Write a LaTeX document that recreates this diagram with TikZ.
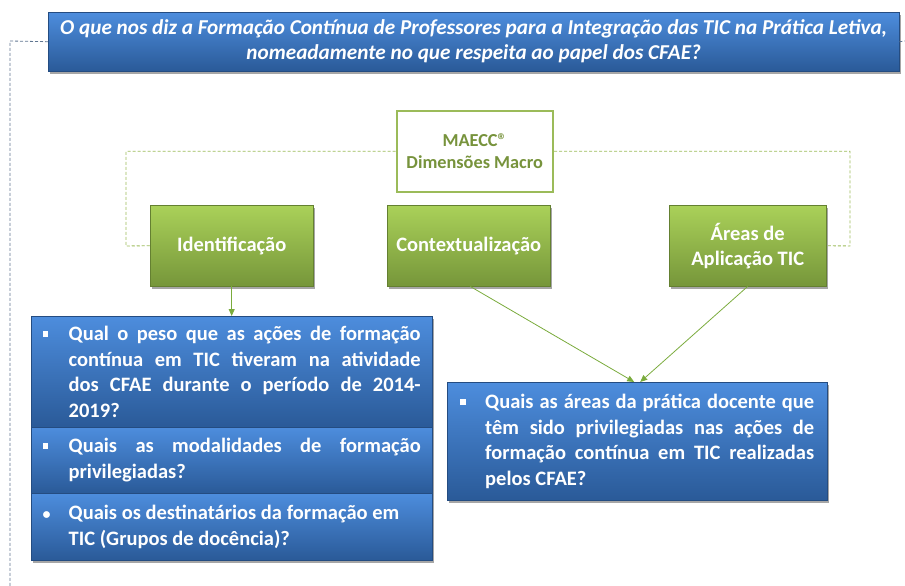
\documentclass[tikz,border=0pt]{standalone}
\usepackage{fontspec}
\setmainfont{Carlito}
\usetikzlibrary{shadows,arrows.meta,calc}
\definecolor{bluetop}{HTML}{4D8DDD}
\definecolor{bluebot}{HTML}{2A5A98}
\definecolor{greentop}{HTML}{AAD159}
\definecolor{greenbot}{HTML}{76963A}
\definecolor{greenline}{HTML}{9BBB59}
\definecolor{greentext}{HTML}{77933C}
\definecolor{arrowgreen}{HTML}{7AAB3C}
\definecolor{dashblue}{HTML}{5F7590}
\newcommand{\sqb}{\raisebox{4pt}{\rule{5.5pt}{5.5pt}}}
\newcommand{\rdb}{{\fontsize{16}{16}\selectfont\textbullet}}
\begin{document}
\begin{tikzpicture}[x=1pt,y=-1pt,
  shad/.style={drop shadow={shadow xshift=2pt,shadow yshift=-3pt,opacity=0.35,fill=black}},
  bluebox/.style={draw=bluebot!85!black, line width=0.4pt, top color=bluetop, bottom color=bluebot, shad,
    text=white, font=\fontsize{20.5}{25.5}\selectfont\bfseries, anchor=north west, inner ysep=0pt, inner xsep=0pt},
  greenbox/.style={draw=greenbot!85!black, line width=0.4pt, top color=greentop, bottom color=greenbot, shad,
    text=white, font=\fontsize{20.5}{25}\selectfont\bfseries, anchor=north west, align=center,
    minimum height=81pt, inner sep=0pt},
  greendash/.style={draw=greenline, line width=0.9pt, dash pattern=on 3pt off 2pt},
  bluedash/.style={draw=dashblue, line width=0.8pt, dash pattern=on 3pt off 2pt},
  arr/.style={draw=arrowgreen, line width=0.8pt, -{Triangle[length=7pt,width=6pt]}}
]
\useasboundingbox (0,0) rectangle (905,586);

% title
\node[bluebox, minimum width=851pt, minimum height=59pt, align=center,
  font=\fontsize{21.2}{25}\selectfont\bfseries\itshape] (title) at (48,12)
  {O que nos diz a Formação Contínua de Professores para a Integração das TIC na Prática Letiva,\\
   nomeadamente no que respeita ao papel dos CFAE?};
\coordinate (tl) at (10,41);
\coordinate (tb) at (10,586);
\coordinate (tr) at (905,41);
\draw[bluedash] (title.west) -- (tl) -- (tb);
\draw[bluedash] (title.east) -- (tr);

% MAECC box
\node[draw=greenline, line width=2.5pt, fill=white, text=greentext, anchor=north west,
  minimum width=156pt, minimum height=81pt, align=center, inner sep=0pt,
  font=\fontsize{18.3}{22}\selectfont\bfseries] (maecc) at (395.5,109.5)
  {MAECC®\\Dimensões Macro};

% green boxes
\node[greenbox, minimum width=163pt] (ident) at (150,205) {Identificação};
\node[greenbox, minimum width=163pt] (ctx) at (387,205) {Contextualização};
\node[greenbox, minimum width=157pt] (areas) at (669,205) {Áreas de\\Aplicação TIC};

\coordinate (dl) at (126,246);
\coordinate (dr) at (850,246);
\draw[greendash] (maecc.west) -| (dl) -- (ident.west);
\draw[greendash] (maecc.east) -| (dr) -- (areas.east);

% left blue boxes
\node[bluebox, minimum width=401pt, minimum height=111pt] (b1) at (31,316)
  {\makebox[26pt][l]{\sqb}\parbox[t]{352pt}{Qual o peso que as ações de formação\linebreak
   contínua em TIC tiveram na atividade\linebreak dos CFAE durante o período de 2014-\linebreak 2019?}};
\node[bluebox, minimum width=401pt, minimum height=66pt] (b2) at (31,427)
  {\makebox[26pt][l]{\sqb}\parbox[t]{352pt}{Quais as modalidades de formação\linebreak privilegiadas?}};
\node[bluebox, minimum width=401pt, minimum height=67pt] (b3) at (31,493)
  {\makebox[26pt][l]{\rdb}\parbox[t]{352pt}{\raggedright Quais os destinatários da formação em\\TIC (Grupos de docência)?}};

% right blue box
\node[bluebox, minimum width=380pt, minimum height=118pt] (rb) at (447,382)
  {\makebox[25pt][l]{\sqb}\parbox[t]{329pt}{Quais as áreas da prática docente que\linebreak
   têm sido privilegiadas nas ações de\linebreak formação contínua em TIC realizadas\linebreak pelos CFAE?}};

% arrows
\draw[arr] (ident.south) -- (b1.north);
\draw[arr] ($(ctx.south)+(1.5,0)$) -- ($(rb.north)+(-3,0)$);
\draw[arr] (areas.south) -- ($(rb.north)+(3,0)$);
\end{tikzpicture}
\end{document}
